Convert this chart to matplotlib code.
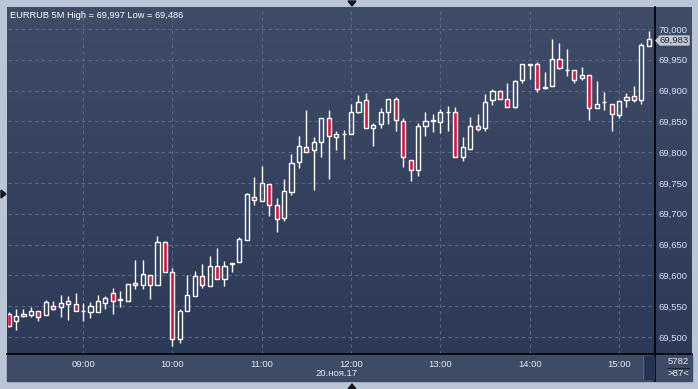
import numpy as np
import pandas as pd
import matplotlib
matplotlib.use('Agg')
import matplotlib.pyplot as plt
from matplotlib.patches import Rectangle, Polygon
from matplotlib.lines import Line2D

plt.rcParams['font.family'] = ['Liberation Sans', 'DejaVu Sans']

# EURRUB 5M candles, 20.11.17 08:10 - 15:20
opens = [69538, 69526, 69534, 69535, 69542, 69535, 69550, 69549, 69553, 69554,
         69542, 69541, 69541, 69556, 69571, 69560, 69559, 69588, 69584, 69600,
         69585, 69654, 69605, 69497, 69543, 69567, 69599, 69582, 69616, 69594,
         69619, 69621, 69658, 69728, 69720, 69748, 69715, 69693, 69735, 69784,
         69808, 69803, 69816, 69855, 69824, 69829, 69829, 69865, 69884, 69840,
         69845, 69866, 69886, 69850, 69788, 69771, 69842, 69851, 69849, 69865,
         69866, 69793, 69806, 69842, 69839, 69884, 69900, 69886, 69873, 69917,
         69944, 69943, 69905, 69907, 69952, 69933, 69933, 69920, 69925, 69871,
         69881, 69879, 69860, 69884, 69891, 69884, 69972]
highs = [69540, 69545, 69545, 69548, 69542, 69560, 69558, 69568, 69567, 69571,
         69555, 69557, 69568, 69567, 69580, 69575, 69586, 69625, 69625, 69600,
         69664, 69656, 69612, 69546, 69600, 69607, 69618, 69631, 69644, 69623,
         69620, 69663, 69733, 69760, 69778, 69748, 69726, 69756, 69797, 69826,
         69868, 69824, 69855, 69868, 69834, 69836, 69878, 69893, 69896, 69847,
         69871, 69886, 69889, 69855, 69788, 69847, 69865, 69862, 69870, 69875,
         69874, 69825, 69857, 69862, 69894, 69902, 69901, 69913, 69918, 69943,
         69944, 69946, 69931, 69983, 69978, 69967, 69933, 69939, 69925, 69915,
         69897, 69879, 69883, 69896, 69907, 69978, 69997]
lows = [69516, 69511, 69532, 69532, 69526, 69535, 69544, 69532, 69528, 69543,
        69526, 69531, 69541, 69545, 69538, 69548, 69559, 69578, 69578, 69562,
        69585, 69606, 69486, 69491, 69543, 69567, 69580, 69582, 69594, 69583,
        69606, 69621, 69658, 69715, 69720, 69697, 69671, 69689, 69730, 69774,
        69801, 69738, 69793, 69757, 69803, 69789, 69829, 69863, 69840, 69810,
        69839, 69845, 69834, 69776, 69754, 69761, 69827, 69833, 69831, 69835,
        69792, 69785, 69806, 69834, 69834, 69876, 69886, 69873, 69871, 69912,
        69919, 69897, 69902, 69907, 69935, 69923, 69913, 69918, 69853, 69871,
        69868, 69834, 69855, 69873, 69881, 69878, 69972]
closes = [69518, 69534, 69538, 69543, 69533, 69557, 69546, 69555, 69558, 69543,
          69542, 69550, 69558, 69563, 69559, 69561, 69586, 69584, 69603, 69584,
          69654, 69606, 69497, 69542, 69568, 69599, 69584, 69615, 69594, 69616,
          69620, 69659, 69732, 69722, 69750, 69715, 69691, 69737, 69782, 69810,
          69801, 69816, 69855, 69827, 69829, 69829, 69866, 69881, 69840, 69844,
          69866, 69886, 69853, 69792, 69771, 69842, 69850, 69852, 69866, 69866,
          69792, 69808, 69842, 69837, 69881, 69899, 69886, 69873, 69915, 69943,
          69941, 69902, 69906, 69951, 69936, 69934, 69918, 69925, 69871, 69878,
          69882, 69862, 69883, 69889, 69884, 69974, 69983]
times = pd.date_range('2017-11-20 08:10', periods=len(opens), freq='5min')
price_ticks = list(range(69500, 70001, 50))
last_price = '69,983'
bars_info = ['5782', '>87<']
title = 'EURRUB 5M High = 69,997 Low = 69,486'

W, H = 698, 389
fig = plt.figure(figsize=(W / 100, H / 100), dpi=100, facecolor='#bac6d6')


def box(x0, y0, x1, y1):
    return [x0 / W, 1 - y1 / H, (x1 - x0) / W, (y1 - y0) / H]


def P(x, y):
    return (x / W, 1 - y / H)


# dark panel with vertical gradient
bg = fig.add_axes(box(7, 7, 692, 381))
bg.set_zorder(0)
grad = np.linspace(0, 1, 256).reshape(-1, 1)
top_c = np.array([0x3f, 0x4c, 0x68]) / 255
bot_c = np.array([0x2b, 0x38, 0x56]) / 255
img = top_c[None, None, :] * (1 - grad[..., None]) + bot_c[None, None, :] * grad[..., None]
bg.imshow(img, aspect='auto', extent=[0, 1, 0, 1])
bg.axis('off')

# bottom time strip
fig.add_artist(Rectangle(P(7, 381), (692 - 7) / W, (381 - 354) / H,
                         transform=fig.transFigure, color='#3e4b66', zorder=0.5))

ax = fig.add_axes(box(8, 8, 655, 354))
ax.set_zorder(2)
ax.patch.set_alpha(0)
x = np.arange(len(opens))
o = np.array(opens)
c = np.array(closes)
hi = np.array(highs)
lo = np.array(lows)
top = np.maximum(o, c)
bot = np.minimum(o, c)
down = c < o

ax.vlines(x, top, hi, color='white', linewidth=1, zorder=3)
ax.vlines(x, lo, bot, color='white', linewidth=1, zorder=3)
ax.bar(x[~down], (top - bot)[~down], bottom=bot[~down], width=0.55,
       facecolor='none', edgecolor='white', linewidth=1, zorder=4)
ax.bar(x[down], (top - bot)[down], bottom=bot[down], width=0.55,
       facecolor='#e0103a', edgecolor='white', linewidth=1, zorder=4)

ax.set_xlim(-0.08, 86.83)
ax.set_ylim(69472.4, 70034.1)

hour_idx = [i for i, t in enumerate(times) if t.minute == 0]
ax.set_xticks(hour_idx)
ax.set_xticklabels([times[i].strftime('%H:%M') for i in hour_idx])
ax.set_yticks(price_ticks)
ax.set_yticklabels(['{:,}'.format(v) for v in price_ticks])
ax.yaxis.tick_right()
ax.tick_params(axis='y', length=0, pad=2.5, labelsize=6.8, labelcolor='#d8e4f6')
ax.tick_params(axis='x', length=0, pad=4, labelsize=6.8, labelcolor='#e6ecf4')
ax.grid(color='#5a6886', linestyle=(0, (3, 3)), linewidth=0.8)
for s in ax.spines.values():
    s.set_visible(False)

# frame lines
fig.add_artist(Line2D([7 / W, 692 / W], [1 - 354 / H] * 2, color='black', lw=1.2, zorder=3))
fig.add_artist(Line2D([655 / W] * 2, [1 - 7 / H, 1 - 381 / H], color='black', lw=1.2, zorder=3))

fig.text(10 / W, 1 - 15 / H, title, color='white', fontsize=6.7, va='center', ha='left')
fig.text(337 / W, 1 - 373 / H, '20.ноя.17', color='#e6ecf4', fontsize=6.8,
         va='center', ha='center')

# last price tag
fig.add_artist(Polygon([P(656, 40.5), P(660, 36), P(689, 36), P(689, 45), P(660, 45)],
                       closed=True, transform=fig.transFigure, color='#c4c7cd', zorder=5))
fig.text(674 / W, 1 - 40.5 / H, last_price, color='#1e2a40', fontsize=6.8,
         va='center', ha='center', zorder=6)

# bottom-right counter box
fig.add_artist(Rectangle(P(643, 379), 11 / W, 23 / H, transform=fig.transFigure,
                         color='#253250', zorder=3))
fig.add_artist(Line2D([643 / W] * 2, [1 - 356 / H, 1 - 379 / H], color='#56627a', lw=1, zorder=3))
fig.text(678 / W, 1 - 361 / H, bars_info[0], color='#e6ecf4', fontsize=6.8,
         va='center', ha='center')
fig.add_artist(Line2D([667 / W, 689 / W], [1 - 367.5 / H] * 2, color='#1c2336', lw=0.8, zorder=3))
fig.text(678 / W, 1 - 374 / H, bars_info[1], color='#e6ecf4', fontsize=6.8,
         va='center', ha='center')

# little scroll triangles on the frame
for pts in ([P(348, 1), P(356, 1), P(352, 6)],
            [P(1, 190), P(1, 198), P(6, 194)],
            [P(348, 389), P(356, 389), P(352, 384)]):
    fig.add_artist(Polygon(pts, closed=True, transform=fig.transFigure,
                           color='#10151f', zorder=6))

fig.savefig('out.png', dpi=100, facecolor=fig.get_facecolor())
